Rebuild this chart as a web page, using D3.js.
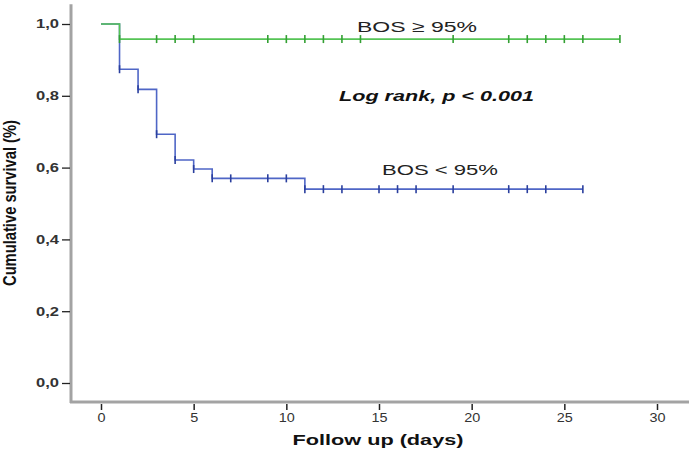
<!DOCTYPE html>
<html>
<head>
<meta charset="utf-8">
<script src="https://cdn.jsdelivr.net/npm/d3@7"></script>
<style>
  body { margin: 0; background: #fff; }
  svg { display: block; }
</style>
</head>
<body>
<svg id="chart" width="690" height="451"></svg>
<script>
// values
const xTicks = [0, 5, 10, 15, 20, 25, 30];
const yTicks = [0, 0.2, 0.4, 0.6, 0.8, 1.0];

// BOS >= 95%
const greenTimes = [0, 1];
const greenSurv = [1, 0.958];
const greenEnd = 28;
const greenCensor = [1, 3, 4, 5, 9, 10, 11, 12, 13, 14, 19, 22, 23, 24, 25, 26, 28];

// BOS < 95%
const blueTimes = [0, 1, 2, 3, 4, 5, 6, 11];
const blueSurv = [1, 0.874, 0.818, 0.693, 0.621, 0.596, 0.570, 0.540];
const blueEnd = 26;
const blueCensor = [1, 2, 3, 4, 5, 6, 7, 9, 10, 11, 12, 13, 15, 16, 17, 19, 22, 23, 24, 26];

const FONT = 'Liberation Sans, Arial, sans-serif';
const svg = d3.select('#chart');

const x = d3.scaleLinear().domain([0, 30]).range([101, 657]);
const y = d3.scaleLinear().domain([0, 1]).range([383, 24]);

// the source picture is stretched sideways, so widen text the same way
function stretch(sel, k) {
  sel.each(function () {
    const w = this.getComputedTextLength();
    d3.select(this).attr('textLength', w * k).attr('lengthAdjust', 'spacingAndGlyphs');
  });
}
function fitWidth(sel, w) {
  sel.attr('textLength', w).attr('lengthAdjust', 'spacingAndGlyphs');
}

// axis lines (grey, thick)
const axisG = svg.append('g');
axisG.append('line')
  .attr('x1', 71).attr('x2', 71)
  .attr('y1', y(1.055)).attr('y2', 403)
  .attr('stroke', '#a3a3a3').attr('stroke-width', 3);
axisG.append('line')
  .attr('x1', 70).attr('x2', 689)
  .attr('y1', 402).attr('y2', 402)
  .attr('stroke', '#a3a3a3').attr('stroke-width', 3);

const yAxis = svg.append('g')
  .attr('transform', 'translate(70,0)')
  .call(d3.axisLeft(y).tickValues(yTicks).tickSize(8).tickPadding(3)
    .tickFormat(d => d3.format('.1f')(d).replace('.', ',')));
yAxis.select('.domain').remove();
yAxis.selectAll('line').attr('stroke', '#222').attr('stroke-width', 1.3);
yAxis.selectAll('text')
  .attr('font-family', FONT)
  .attr('font-size', 12).attr('fill', '#333').attr('font-weight', 'bold')
  .call(fitWidth, 23);

const xAxis = svg.append('g')
  .attr('transform', 'translate(0,404)')
  .call(d3.axisBottom(x).tickValues(xTicks).tickSize(6).tickPadding(3));
xAxis.select('.domain').remove();
xAxis.selectAll('line').attr('stroke', '#222').attr('stroke-width', 1.5);
xAxis.selectAll('text')
  .attr('font-family', FONT)
  .attr('font-size', 12).attr('fill', '#333')
  .call(stretch, 1.2);

// survival curves
function stepPoints(times, surv, end) {
  const pts = times.map((t, i) => [t, surv[i]]);
  pts.push([end, surv[surv.length - 1]]);
  return pts;
}
function survAt(times, surv, t) {
  let s = surv[0];
  times.forEach((tt, i) => { if (tt <= t) s = surv[i]; });
  return s;
}
const line = d3.line()
  .x(d => x(d[0])).y(d => y(d[1]))
  .curve(d3.curveStepAfter);

function drawCurve(times, surv, end, censor, color, markColor) {
  const g = svg.append('g');
  g.append('path')
    .datum(stepPoints(times, surv, end))
    .attr('d', line)
    .attr('fill', 'none')
    .attr('stroke', color)
    .attr('stroke-width', 1.6);
  g.selectAll('line.cens')
    .data(censor)
    .enter()
    .append('line')
    .attr('class', 'cens')
    .attr('x1', d => x(d)).attr('x2', d => x(d))
    .attr('y1', d => y(survAt(times, surv, d)) - 4)
    .attr('y2', d => y(survAt(times, surv, d)) + 4)
    .attr('stroke', markColor)
    .attr('stroke-width', 1.6);
}

drawCurve(blueTimes, blueSurv, blueEnd, blueCensor, '#4f66c6', '#2a3f9e');
drawCurve(greenTimes, greenSurv, greenEnd, greenCensor, '#55c455', '#33a033');

// annotations
svg.append('text')
  .attr('x', 357).attr('y', 32)
  .attr('font-family', FONT)
  .attr('font-size', 15.5).attr('fill', '#222')
  .text('BOS \u2265 95%')
  .call(fitWidth, 120);

svg.append('text')
  .attr('x', 339).attr('y', 101)
  .attr('font-family', FONT)
  .attr('font-size', 15.5).attr('font-weight', 'bold').attr('font-style', 'italic')
  .attr('fill', '#111')
  .text('Log rank, p < 0.001')
  .call(fitWidth, 195);

svg.append('text')
  .attr('x', 382).attr('y', 175)
  .attr('font-family', FONT)
  .attr('font-size', 15.5).attr('fill', '#222')
  .text('BOS < 95%')
  .call(fitWidth, 116);

svg.append('text')
  .attr('x', 378).attr('y', 445)
  .attr('text-anchor', 'middle')
  .attr('font-family', FONT)
  .attr('font-size', 15.5).attr('font-weight', 'bold')
  .attr('fill', '#111')
  .text('Follow up (days)')
  .call(fitWidth, 171);

svg.append('text')
  .attr('transform', 'translate(16,203) rotate(-90)')
  .attr('text-anchor', 'middle')
  .attr('font-family', FONT)
  .attr('font-size', 17.5).attr('font-weight', 'bold')
  .attr('fill', '#111')
  .text('Cumulative survival (%)')
  .call(fitWidth, 166);
</script>
</body>
</html>
